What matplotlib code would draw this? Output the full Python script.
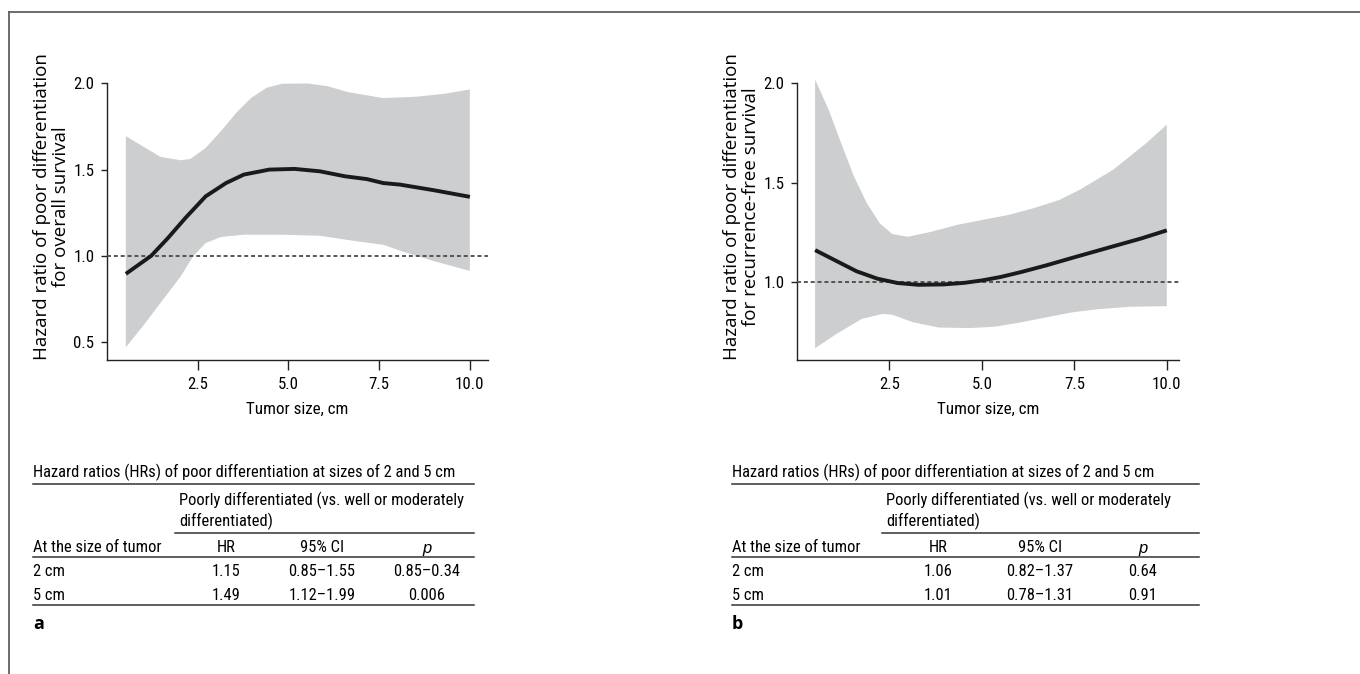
import numpy as np
import matplotlib
matplotlib.use('Agg')
import matplotlib.pyplot as plt
from matplotlib.lines import Line2D
from matplotlib import font_manager as fm

# ---- panel a: overall survival ----
size_a = [0.52, 1.22, 1.68, 2.16, 2.72, 3.28, 3.77, 4.47, 5.17, 5.87, 6.56, 7.16, 7.61, 8.07, 8.99, 10.0]
hr_a = [0.895, 1.0, 1.103, 1.219, 1.345, 1.422, 1.471, 1.50, 1.504, 1.49, 1.461, 1.445, 1.422, 1.413, 1.381, 1.342]
up_x_a = [0.52, 0.98, 1.47, 2.03, 2.30, 2.72, 3.14, 3.56, 3.98, 4.40, 4.82, 5.52, 6.08, 6.63, 7.61, 8.53, 9.30, 10.0]
up_a = [1.694, 1.636, 1.574, 1.554, 1.562, 1.626, 1.723, 1.829, 1.917, 1.975, 1.998, 2.0, 1.984, 1.95, 1.915, 1.923, 1.94, 1.965]
lo_x_a = [0.52, 0.98, 1.47, 2.03, 2.37, 2.72, 3.14, 3.77, 4.82, 5.87, 6.91, 7.61, 8.07, 8.99, 10.0]
lo_a = [0.469, 0.589, 0.725, 0.88, 0.996, 1.074, 1.109, 1.122, 1.122, 1.116, 1.083, 1.064, 1.03, 0.97, 0.912]

# ---- panel b: recurrence-free survival ----
size_b = [0.49, 1.06, 1.61, 2.17, 2.72, 3.28, 3.97, 4.53, 5.0, 5.5, 6.06, 6.75, 7.44, 8.55, 9.3, 10.0]
hr_b = [1.162, 1.108, 1.056, 1.019, 0.997, 0.988, 0.99, 0.998, 1.01, 1.027, 1.052, 1.086, 1.123, 1.181, 1.22, 1.261]
up_x_b = [0.49, 0.85, 1.19, 1.54, 1.89, 2.24, 2.58, 3.0, 3.63, 4.32, 5.0, 5.71, 6.40, 7.10, 7.65, 8.55, 9.45, 10.0]
up_b = [2.017, 1.869, 1.70, 1.532, 1.397, 1.296, 1.242, 1.229, 1.254, 1.288, 1.313, 1.338, 1.372, 1.414, 1.465, 1.565, 1.699, 1.791]
lo_x_b = [0.49, 1.06, 1.75, 2.31, 2.58, 3.14, 3.83, 4.67, 5.36, 6.06, 6.75, 7.44, 8.1, 9.0, 10.0]
lo_b = [0.670, 0.741, 0.817, 0.842, 0.838, 0.80, 0.774, 0.771, 0.778, 0.80, 0.825, 0.85, 0.865, 0.878, 0.881]

ylab_a = 'Hazard ratio of poor differentiation\nfor overall survival'
ylab_b = 'Hazard ratio of poor differentiation\nfor recurrence-free survival'
xlab = 'Tumor size, cm'
xticks = [2.5, 5.0, 7.5, 10.0]

# ---- tables ----
table_title = 'Hazard ratios (HRs) of poor differentiation at sizes of 2 and 5 cm'
group_head = ['Poorly differentiated (vs. well or moderately', 'differentiated)']
col_heads = ['At the size of tumor', 'HR', '95% CI', 'p']
row_names = ['2 cm', '5 cm']
hr_tab_a = ['1.15', '1.49']
ci_tab_a = ['0.85\u20131.55', '1.12\u20131.99']
p_tab_a = ['0.85\u20130.34', '0.006']
hr_tab_b = ['1.06', '1.01']
ci_tab_b = ['0.82\u20131.37', '0.78\u20131.31']
p_tab_b = ['0.64', '0.91']

W, H = 1360, 674
band_col = '#cdcecf'


def pick_narrow_file():
    # look for a condensed / narrow sans face, else fall back to Liberation Sans
    order = ['Liberation Sans Narrow', 'Noto Sans', 'Open Sans', 'Roboto', 'Lato', 'DejaVu Sans']
    best = None
    for f in fm.fontManager.ttflist:
        st = f.stretch
        if isinstance(st, str):
            st = fm.stretch_dict.get(st, 500)
        tag = (f.name + ' ' + f.fname).lower()
        narrowish = 'narrow' in tag or 'condensed' in tag or st < 500
        if not narrowish or 'extra' in tag or 'ultra' in tag or 'semi' in tag:
            continue
        if f.style != 'normal' or f.weight not in (400, 'normal', 'regular'):
            continue
        rank = len(order)
        for i, n in enumerate(order):
            if f.name.startswith(n):
                rank = i
                break
        if best is None or rank < best[0]:
            best = (rank, f.fname)
    if best is None:
        return fm.findfont(fm.FontProperties(family='Liberation Sans'))
    return best[1]


narrow_file = pick_narrow_file()

fig = plt.figure(figsize=(W / 100, H / 100), dpi=100)
renderer = fig.canvas.get_renderer()


def width_at(s, fp):
    t = fig.text(0, 0, s, fontproperties=fp)
    w = t.get_window_extent(renderer).width
    t.remove()
    return w


def fit_size(s, target, fname=None, family=None):
    fp = fm.FontProperties(fname=fname, family=family, size=13)
    return 13 * target / width_at(s, fp)


tab_size = fit_size(table_title, 423, fname=narrow_file)
xlab_size = fit_size(xlab, 102, fname=narrow_file)
tick_size = fit_size('10.0', 29, fname=narrow_file)
ylab_size = fit_size('Hazard ratio of poor differentiation', 307, family=['Open Sans', 'DejaVu Sans'])

tab_fp = fm.FontProperties(fname=narrow_file, size=tab_size)
xlab_fp = fm.FontProperties(fname=narrow_file, size=xlab_size)
tick_fp = fm.FontProperties(fname=narrow_file, size=tick_size)
ylab_fp = fm.FontProperties(family=['Open Sans', 'DejaVu Sans'], size=ylab_size)


def fx(px):
    return px / W


def fy(py):
    return 1 - py / H


def draw_panel(rect, xmax, ylim, yticks, sx, hr, ux, uy, lx, ly, ylabel, ly_pos):
    ax = fig.add_axes(rect)
    ax.fill(np.concatenate([ux, lx[::-1]]), np.concatenate([uy, ly[::-1]]),
            color=band_col, lw=0)
    ax.axhline(1.0, color='#4a4a4a', lw=1.3, ls=(0, (2.2, 1.6)), zorder=3)
    ax.plot(sx, hr, color='#1a1a1a', lw=2.8, solid_capstyle='butt',
            solid_joinstyle='round', zorder=4)
    ax.set_xlim(0, xmax)
    ax.set_ylim(*ylim)
    for s in ['top', 'right']:
        ax.spines[s].set_visible(False)
    ax.spines['left'].set_bounds(ylim[0], 2.0)
    for s in ['left', 'bottom']:
        ax.spines[s].set_color('#222222')
        ax.spines[s].set_linewidth(1.0)
    ax.set_xticks(xticks)
    ax.set_xticklabels(['%.1f' % v for v in xticks], fontproperties=tick_fp)
    ax.set_yticks(yticks)
    ax.set_yticklabels(['%.1f' % v for v in yticks], fontproperties=tick_fp)
    ax.tick_params(axis='x', length=7, width=1.0, pad=5, color='#222222')
    ax.tick_params(axis='y', length=4, width=1.0, pad=5, color='#222222')
    ax.set_xlabel(xlab, fontproperties=xlab_fp, labelpad=7)
    ax.set_ylabel(ylabel, fontproperties=ylab_fp, linespacing=1.1)
    ax.yaxis.set_label_coords(-0.097, ly_pos)
    return ax


draw_panel([fx(107), fy(360), fx(381), (360 - 80) / H], 10.5, (0.395, 2.02),
           [0.5, 1.0, 1.5, 2.0], size_a, hr_a, np.array(up_x_a), np.array(up_a),
           np.array(lo_x_a), np.array(lo_a), ylab_a, 0.548)
draw_panel([fx(797), fy(360), fx(382), (360 - 77) / H], 10.33, (0.611, 2.03),
           [1.0, 1.5, 2.0], size_b, hr_b, np.array(up_x_b), np.array(up_b),
           np.array(lo_x_b), np.array(lo_b), ylab_b, 0.542)


def hline(x0, x1, y, lw=1.1):
    fig.add_artist(Line2D([fx(x0), fx(x1)], [fy(y), fy(y)], color='#333333', lw=lw))


def draw_table(left, right, sub_left, cols, hr_t, ci_t, p_t, tag):
    kw = dict(fontproperties=tab_fp, va='baseline')
    fig.text(fx(left), fy(477), table_title, ha='left', **kw)
    hline(left, right, 484)
    fig.text(fx(sub_left + 4), fy(505.5), group_head[0], ha='left', **kw)
    fig.text(fx(sub_left + 4), fy(526), group_head[1], ha='left', **kw)
    hline(sub_left, right, 533)
    fig.text(fx(left), fy(552.5), col_heads[0], ha='left', **kw)
    fig.text(fx(cols[0]), fy(552.5), col_heads[1], ha='center', **kw)
    fig.text(fx(cols[1]), fy(552.5), col_heads[2], ha='center', **kw)
    fig.text(fx(cols[2]), fy(552.5), col_heads[3], ha='center', va='baseline',
             family=['Liberation Sans', 'DejaVu Sans'], style='italic', fontsize=tab_size)
    hline(left, right, 557)
    for i, yy in enumerate([575.5, 600]):
        fig.text(fx(left), fy(yy), row_names[i], ha='left', **kw)
        fig.text(fx(cols[0]), fy(yy), hr_t[i], ha='center', **kw)
        fig.text(fx(cols[1]), fy(yy), ci_t[i], ha='center', **kw)
        fig.text(fx(cols[2]), fy(yy), p_t[i], ha='center', **kw)
    hline(left, right, 605)
    fig.text(fx(left), fy(629), tag, ha='left', family=['Open Sans', 'DejaVu Sans'],
             fontsize=13, fontweight='bold', va='baseline')


draw_table(33, 474, 175, [226, 322, 427], hr_tab_a, ci_tab_a, p_tab_a, 'a')
draw_table(732, 1199, 882, [938, 1040, 1143], hr_tab_b, ci_tab_b, p_tab_b, 'b')

# frame lines (top and left)
fig.add_artist(Line2D([fx(9), 1], [fy(12), fy(12)], color='#606060', lw=1.3))
fig.add_artist(Line2D([fx(9), fx(9)], [fy(12), 0], color='#606060', lw=1.3))

fig.savefig('out.png', dpi=100)
